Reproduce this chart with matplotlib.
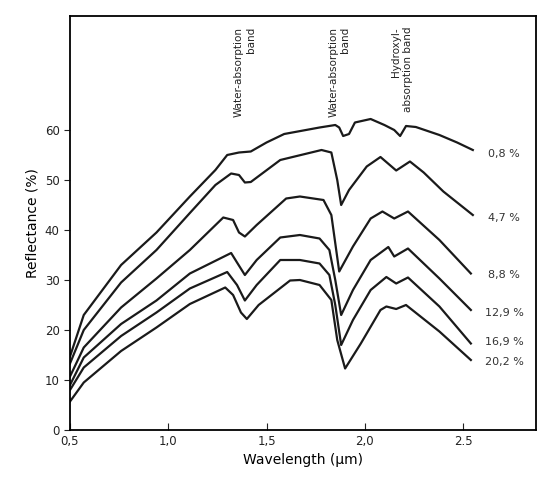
import matplotlib
matplotlib.use("Agg")
import matplotlib.pyplot as plt

x08 = [0.5, 0.57, 0.76, 0.94, 1.11, 1.24, 1.30, 1.36, 1.42, 1.50, 1.59, 1.77, 1.85, 1.87, 1.89, 1.92, 1.95, 2.03, 2.10, 2.15, 2.18, 2.21, 2.26, 2.38, 2.47, 2.55]
r08 = [14.7, 23, 33, 39.5, 46.7, 52, 55, 55.5, 55.7, 57.5, 59.2, 60.5, 61, 60.5, 58.8, 59.2, 61.5, 62.2, 61, 60, 58.8, 60.8, 60.6, 59, 57.5, 56]
x47 = [0.5, 0.57, 0.76, 0.94, 1.11, 1.24, 1.32, 1.36, 1.39, 1.42, 1.57, 1.78, 1.83, 1.86, 1.88, 1.92, 2.01, 2.08, 2.16, 2.23, 2.30, 2.40, 2.55]
r47 = [13.3, 20, 29.5, 36, 43.4, 49, 51.3, 51, 49.5, 49.6, 54, 56, 55.5, 50, 45, 48, 52.7, 54.6, 51.9, 53.7, 51.5, 47.7, 43]
x88 = [0.5, 0.57, 0.76, 0.94, 1.11, 1.28, 1.33, 1.36, 1.39, 1.45, 1.60, 1.67, 1.79, 1.83, 1.87, 1.94, 2.03, 2.09, 2.15, 2.22, 2.38, 2.54]
r88 = [10.7, 16.5, 24.5, 30.3, 36, 42.5, 42, 39.5, 38.7, 41, 46.3, 46.7, 46, 43, 31.7, 36.7, 42.3, 43.7, 42.3, 43.7, 38, 31.3]
x129 = [0.5, 0.57, 0.76, 0.94, 1.11, 1.32, 1.35, 1.39, 1.45, 1.57, 1.67, 1.77, 1.82, 1.85, 1.88, 1.94, 2.03, 2.12, 2.15, 2.22, 2.38, 2.54]
r129 = [9.0, 14.5, 21.2, 25.9, 31.3, 35.4, 33.5, 31, 34, 38.5, 39, 38.3, 36, 30, 23, 28, 34, 36.6, 34.7, 36.3, 30.3, 24]
x169 = [0.5, 0.57, 0.76, 0.94, 1.11, 1.30, 1.35, 1.39, 1.45, 1.57, 1.67, 1.77, 1.82, 1.85, 1.88, 1.94, 2.03, 2.11, 2.16, 2.22, 2.38, 2.54]
r169 = [8.0, 12.5, 18.8, 23.5, 28.3, 31.6, 29, 25.9, 29, 34, 34, 33.3, 31, 25, 17, 22, 28, 30.6, 29.3, 30.5, 24.7, 17.3]
x202 = [0.5, 0.57, 0.76, 0.94, 1.11, 1.29, 1.33, 1.37, 1.40, 1.46, 1.62, 1.67, 1.77, 1.83, 1.86, 1.90, 1.98, 2.08, 2.11, 2.16, 2.21, 2.38, 2.54]
r202 = [5.7, 9.5, 15.8, 20.5, 25.2, 28.5, 27, 23.5, 22.2, 25, 29.9, 30, 29, 26, 18, 12.3, 17.3, 24, 24.7, 24.2, 25, 19.7, 14]
xs = [x08, x47, x88, x129, x169, x202]
series = [r08, r47, r88, r129, r169, r202]
labels = ["0,8 %", "4,7 %", "8,8 %", "12,9 %", "16,9 %", "20,2 %"]
label_y = [55.2, 42.4, 31, 23.3, 17.7, 13.7]
xticks = [0.5, 1.0, 1.5, 2.0, 2.5]
xticklabels = ["0,5", "1,0", "1,5", "2,0", "2.5"]
yticks = [0, 10, 20, 30, 40, 50, 60]
bands = ["Water-absorption\nband", "Water-absorption\nband", "Hydroxyl-\nabsorption band"]
band_x = [1.39, 1.87, 2.19]

fig = plt.figure(figsize=(5.5, 4.99), dpi=100)
ax = fig.add_axes([70/550, 1-430/499, (536-70)/550, (430-16)/499])
for x, s in zip(xs, series):
    ax.plot(x, s, color="#1a1a1a", lw=1.6)
for t, y in zip(labels, label_y):
    ax.text(2.71, y, t, ha="center", va="center", fontsize=8, color="#333")
for t, x in zip(bands, band_x):
    ax.text(x, 80.6, t, rotation=90, ha="center", va="top", fontsize=7.5, color="#222", multialignment="right")
ax.set_xlim(0.5, 0.5 + (536-70)/196.5)
ax.set_ylim(0, 414/5.0)
ax.set_xticks(xticks)
ax.set_xticklabels(xticklabels)
ax.set_yticks(yticks)
ax.tick_params(axis="x", direction="in", length=5, labelsize=8.5, colors="#222")
ax.tick_params(axis="y", direction="out", length=4, labelsize=8.5, colors="#222")
for sp in ax.spines.values():
    sp.set_linewidth(1.3)
ax.set_xlabel("Wavelength (µm)", fontsize=10)
ax.set_ylabel("Reflectance (%)", fontsize=10)
fig.savefig("out.png", dpi=100)
